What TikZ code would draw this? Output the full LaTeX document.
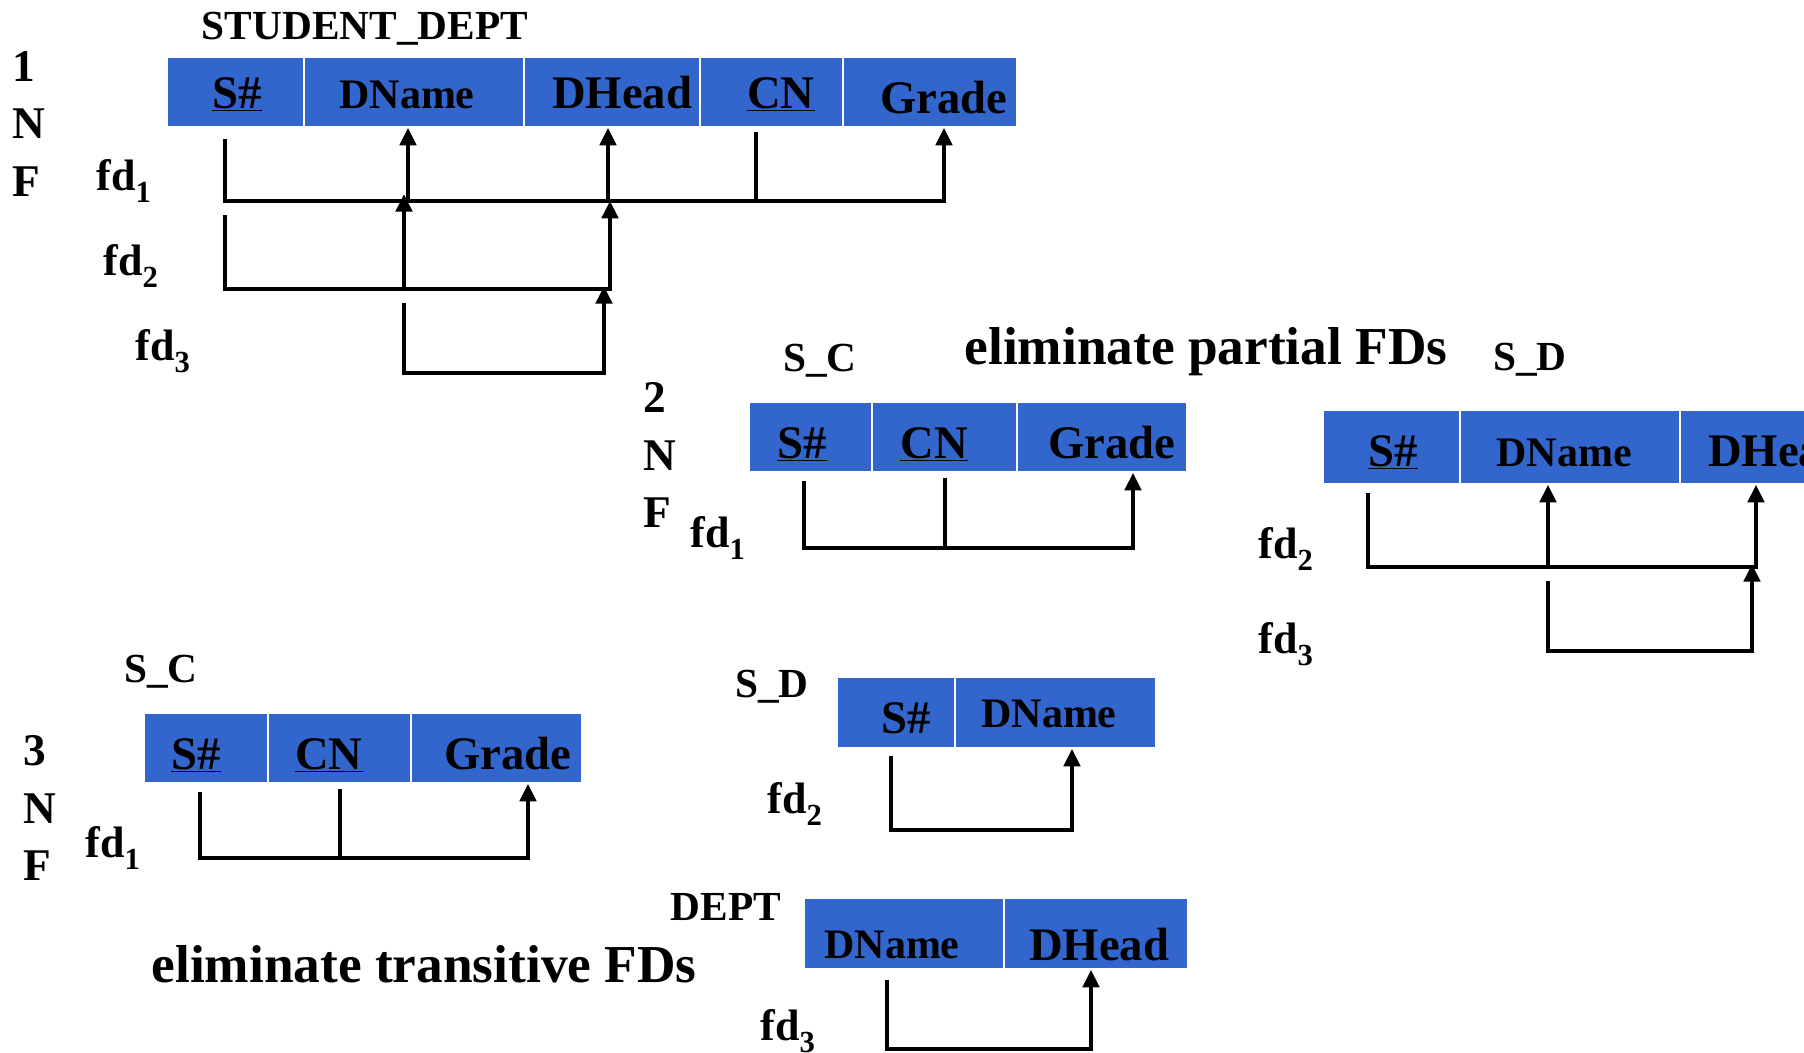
\documentclass[tikz,border=0pt]{standalone}
\usepackage{fontspec}
\setmainfont{Liberation Serif}
\usepackage{graphicx}
\usetikzlibrary{arrows.meta,fit}

\definecolor{relblue}{RGB}{51,102,204}
\newcommand{\fdsub}[1]{\raisebox{-9pt}{\fontsize{23}{23}\selectfont #1}}

\tikzset{every picture/.style={line width=0.75pt}}
\tikzset{
  cell/.style={fill=relblue, draw=white, line width=1.5pt, inner sep=0pt},
  attr/.style={anchor=base, inner sep=0pt, font=\fontsize{35}{40}\selectfont\bfseries},
  attrs/.style={anchor=base, inner sep=0pt, font=\fontsize{31.5}{36}\selectfont\bfseries},
  relname/.style={anchor=base, inner sep=0pt, font=\fontsize{31}{36}\selectfont\bfseries},
  nflab/.style={anchor=west, inner sep=0pt, align=left, font=\fontsize{34}{43}\selectfont\bfseries},
  fdlab/.style={anchor=base west, inner sep=0pt, font=\fontsize{33}{38}\selectfont\bfseries},
  note/.style={anchor=base west, inner sep=0pt, font=\fontsize{40}{46}\selectfont\bfseries},
  fdline/.style={line width=2.3pt},
  fdarrow/.style={line width=2.3pt, -{Triangle[length=13pt,width=12.5pt]}},
}

\begin{document}
\begin{tikzpicture}[x=0.75pt,y=0.75pt,yscale=-1,xscale=1]
	\useasboundingbox (0,0) rectangle (1804,1053);
	
	%%%%%%%%%% 1NF : STUDENT_DEPT
	% Text Node
	\node[relname] (sdept) at (365,40) {STUDENT\_DEPT};
	% Text Node
	\node[nflab] (nf1) at (12,124) {1\\N\\F};
	
	%Shape: Rectangle
	\node[cell, fit={(167,57) (304,127)}] (t1c1) {};
	%Shape: Rectangle
	\node[cell, fit={(304,57) (524,127)}] (t1c2) {};
	%Shape: Rectangle
	\node[cell, fit={(524,57) (700,127)}] (t1c3) {};
	%Shape: Rectangle
	\node[cell, fit={(700,57) (843,127)}] (t1c4) {};
	%Shape: Rectangle
	\node[cell, fit={(843,57) (1017,127)}] (t1c5) {};
	
	% Text Node
	\node[attr] (t1s) at (237,108) {\underline{S\#}};
	% Text Node
	\node[attrs] (t1dn) at (407,108) {DName};
	% Text Node
	\node[attr] (t1dh) at (622,108) {DHead};
	% Text Node
	\node[attr] (t1cn) at (781,108) {\underline{CN}};
	% Text Node
	\node[attr] (t1g) at (944,113) {Grade};
	
	%Straight Lines  fd1
	\coordinate (fd1s) at (225,139);
	\coordinate (fd1dn) at (408,201);
	\coordinate (fd1dh) at (608,201);
	\coordinate (fd1cn) at (756,132);
	\coordinate (fd1g) at (944,201);
	\draw[fdarrow] (fd1s) |- (fd1g) -- (fd1g |- t1c5.south);
	\draw[fdarrow] (fd1dn) -- (fd1dn |- t1c2.south);
	\draw[fdarrow] (fd1dh) -- (fd1dh |- t1c3.south);
	\draw[fdline] (fd1cn) -- (fd1cn |- fd1g);
	
	%Straight Lines  fd2
	\coordinate (fd2s) at (225,215);
	\coordinate (fd2dn) at (404,289);
	\coordinate (fd2dh) at (610,289);
	\draw[fdarrow] (fd2s) |- (fd2dh) -- (fd2dh |- fd1dh);
	\draw[fdarrow] (fd2dn) -- ([yshift=-5pt]fd2dn |- fd1dn);
	
	%Straight Lines  fd3
	\coordinate (fd3s) at (404,303);
	\coordinate (fd3dh) at (604,373);
	\draw[fdarrow] (fd3s) |- (fd3dh) -- ([yshift=-2pt]fd3dh |- fd2dh);
	
	% Text Node
	\node[fdlab] (fd1a) at (96,190) {fd\fdsub{1}};
	% Text Node
	\node[fdlab] (fd2a) at (103,275) {fd\fdsub{2}};
	% Text Node
	\node[fdlab] (fd3a) at (135,360) {fd\fdsub{3}};
	
	%%%%%%%%%% 2NF : S_C
	% Text Node
	\node[nflab] (nf2) at (643,455) {2\\N\\F};
	% Text Node
	\node[relname] (sc2) at (820,371) {S\_C};
	% Text Node
	\node[note] (partial) at (964,364) {eliminate partial FDs};
	
	%Shape: Rectangle
	\node[cell, fit={(749,402) (872,472)}] (t2c1) {};
	%Shape: Rectangle
	\node[cell, fit={(872,402) (1017,472)}] (t2c2) {};
	%Shape: Rectangle
	\node[cell, fit={(1017,402) (1187,472)}] (t2c3) {};
	
	% Text Node
	\node[attr] (t2s) at (802,458) {\underline{S\#}};
	% Text Node
	\node[attr] (t2cn) at (934,458) {\underline{CN}};
	% Text Node
	\node[attr] (t2g) at (1112,458) {Grade};
	
	%Straight Lines  fd1
	\coordinate (g1s) at (804,481);
	\coordinate (g1cn) at (945,478);
	\coordinate (g1g) at (1133,548);
	\draw[fdarrow] (g1s) |- (g1g) -- (g1g |- t2c3.south);
	\draw[fdline] (g1cn) -- (g1cn |- g1g);
	
	% Text Node
	\node[fdlab] (fd1b) at (690,547) {fd\fdsub{1}};
	
	%%%%%%%%%% 2NF : S_D
	% Text Node
	\node[relname] (sd2) at (1530,370) {S\_D};
	
	%Shape: Rectangle
	\node[cell, fit={(1323,410) (1460,484)}] (t4c1) {};
	%Shape: Rectangle
	\node[cell, fit={(1460,410) (1680,484)}] (t4c2) {};
	%Shape: Rectangle
	\node[cell, fit={(1680,410) (1876,484)}] (t4c3) {};
	
	% Text Node
	\node[attr] (t4s) at (1393,466) {\underline{S\#}};
	% Text Node
	\node[attrs] (t4dn) at (1564,466) {DName};
	% Text Node
	\node[attr] (t4dh) at (1778,466) {DHead};
	
	%Straight Lines  fd2
	\coordinate (h2s) at (1368,493);
	\coordinate (h2dn) at (1548,567);
	\coordinate (h2dh) at (1756,567);
	\draw[fdarrow] (h2s) |- (h2dh) -- (h2dh |- t4c3.south);
	\draw[fdarrow] (h2dn) -- (h2dn |- t4c2.south);
	
	%Straight Lines  fd3
	\coordinate (h3s) at (1548,581);
	\coordinate (h3dh) at (1752,651);
	\draw[fdarrow] (h3s) |- (h3dh) -- ([yshift=-2pt]h3dh |- h2dh);
	
	% Text Node
	\node[fdlab] (fd2b) at (1258,558) {fd\fdsub{2}};
	% Text Node
	\node[fdlab] (fd3b) at (1258,653) {fd\fdsub{3}};
	
	%%%%%%%%%% 3NF : S_C
	% Text Node
	\node[nflab] (nf3) at (23,808) {3\\N\\F};
	% Text Node
	\node[relname] (sc3) at (161,682) {S\_C};
	
	%Shape: Rectangle
	\node[cell, fit={(144,713) (268,783)}] (t3c1) {};
	%Shape: Rectangle
	\node[cell, fit={(268,713) (411,783)}] (t3c2) {};
	%Shape: Rectangle
	\node[cell, fit={(411,713) (582,783)}] (t3c3) {};
	
	% Text Node
	\node[attr] (t3s) at (196,769) {\underline{S\#}};
	% Text Node
	\node[attr] (t3cn) at (329,769) {\underline{CN}};
	% Text Node
	\node[attr] (t3g) at (508,769) {Grade};
	
	%Straight Lines  fd1
	\coordinate (k1s) at (200,792);
	\coordinate (k1cn) at (340,789);
	\coordinate (k1g) at (528,858);
	\draw[fdarrow] (k1s) |- (k1g) -- (k1g |- t3c3.south);
	\draw[fdline] (k1cn) -- (k1cn |- k1g);
	
	% Text Node
	\node[fdlab] (fd1c) at (85,857) {fd\fdsub{1}};
	% Text Node
	\node[note] (transitive) at (151,982) {eliminate transitive FDs};
	
	%%%%%%%%%% 3NF : S_D
	% Text Node
	\node[relname] (sd3) at (772,697) {S\_D};
	
	%Shape: Rectangle
	\node[cell, fit={(837,677) (955,748)}] (t5c1) {};
	%Shape: Rectangle
	\node[cell, fit={(955,677) (1156,748)}] (t5c2) {};
	
	% Text Node
	\node[attr] (t5s) at (906,733) {S\#};
	% Text Node
	\node[attrs] (t5dn) at (1049,727) {DName};
	
	%Straight Lines  fd2
	\coordinate (m2s) at (891,756);
	\coordinate (m2dn) at (1072,830);
	\draw[fdarrow] (m2s) |- (m2dn) -- (m2dn |- t5c2.south);
	
	% Text Node
	\node[fdlab] (fd2c) at (767,813) {fd\fdsub{2}};
	
	%%%%%%%%%% 3NF : DEPT
	% Text Node
	\node[relname] (dept) at (726,920) {DEPT};
	
	%Shape: Rectangle
	\node[cell, fit={(804,898) (1004,969)}] (t6c1) {};
	%Shape: Rectangle
	\node[cell, fit={(1004,898) (1188,969)}] (t6c2) {};
	
	% Text Node
	\node[attrs] (t6dn) at (892,958) {DName};
	% Text Node
	\node[attr] (t6dh) at (1099,960) {DHead};
	
	%Straight Lines  fd3
	\coordinate (n3s) at (887,980);
	\coordinate (n3dh) at (1091,1049);
	\draw[fdarrow] (n3s) |- (n3dh) -- (n3dh |- t6c2.south);
	
	% Text Node
	\node[fdlab] (fd3c) at (760,1040) {fd\fdsub{3}};
	
\end{tikzpicture}
\end{document}
